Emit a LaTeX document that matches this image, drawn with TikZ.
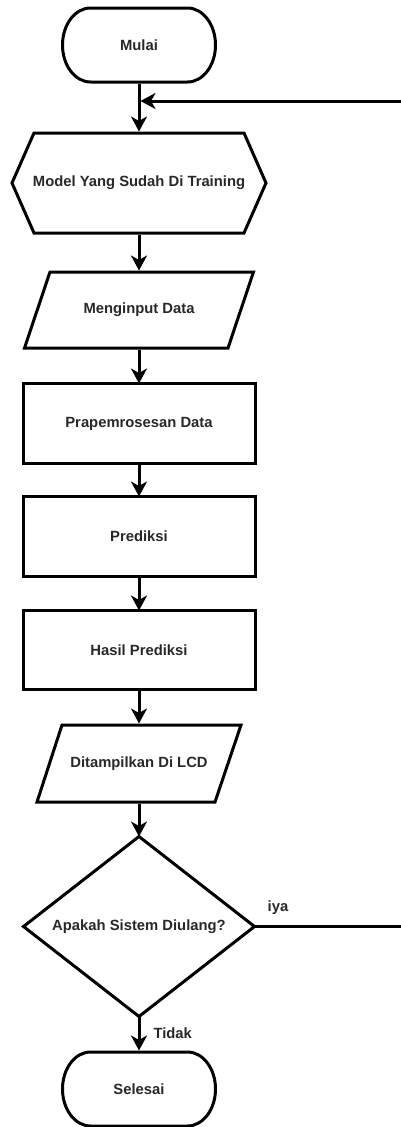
\documentclass[tikz,border=0pt]{standalone}
\usepackage{fontspec}
\setmainfont{Liberation Sans}
\usetikzlibrary{arrows.meta,calc}
\definecolor{txtc}{RGB}{40,40,40}
\begin{document}
\begin{tikzpicture}[x=1pt,y=-1pt, line width=3pt,
  lbl/.style={font=\bfseries\fontsize{14.8}{17}\selectfont, text=txtc, inner sep=0pt},
  shp/.style={lbl, minimum width=#1},
  arr/.style={-{Stealth[length=15pt,width=16pt,inset=4.5pt]}},
  outline/.style={line width=3pt, draw=black}]
\useasboundingbox (0,0) rectangle (401,1127);

% nodes
\node[shp=153pt, minimum height=74pt] (start) at (139,45) {Mulai};
\node[shp=254pt, minimum height=100pt] (hex) at (139,183) {Model Yang Sudah Di Training};
\node[shp=229pt, minimum height=76pt] (inp) at (139,310) {Menginput Data};
\node[shp=229pt, minimum height=77pt] (prep) at (139,423.5) {Prapemrosesan Data};
\node[shp=229pt, minimum height=77pt] (pred) at (139,536.5) {Prediksi};
\node[shp=229pt, minimum height=76pt] (hasil) at (139,650) {Hasil Prediksi};
\node[shp=204pt, minimum height=77pt] (lcd) at (139,763.5) {Ditampilkan Di LCD};
\node[shp=228pt, minimum height=177pt] (dia) at (139,926.5) {Apakah Sistem Diulang?};
\node[shp=153pt, minimum height=74pt] (stop) at (139,1089) {Selesai};

% outlines
\draw[outline, shift={(start.center)}] (-48.5,-37) -- (48.5,-37)
  arc[start angle=-90,end angle=90,x radius=28,y radius=37] -- (-48.5,37)
  arc[start angle=90,end angle=270,x radius=28,y radius=37] -- cycle;
\draw[outline, shift={(hex.center)}] (-127,0) -- (-105,-50) -- (105,-50) -- (127,0) -- (105,50) -- (-105,50) -- cycle;
\draw[outline, shift={(inp.center)}] (-89,-38) -- (114.5,-38) -- (89,38) -- (-114.5,38) -- cycle;
\draw[outline] (prep.north west) rectangle (prep.south east);
\draw[outline] (pred.north west) rectangle (pred.south east);
\draw[outline] (hasil.north west) rectangle (hasil.south east);
\draw[outline, shift={(lcd.center)}] (-77,-38.5) -- (102,-38.5) -- (76,38.5) -- (-102,38.5) -- cycle;
\draw[outline] (dia.north) -- (dia.east) -- (dia.south) -- (dia.west) -- cycle;
\draw[outline, shift={(stop.center)}] (-48.5,-37) -- (48.5,-37)
  arc[start angle=-90,end angle=90,x radius=28,y radius=37] -- (-48.5,37)
  arc[start angle=90,end angle=270,x radius=28,y radius=37] -- cycle;

% connectors
\draw[arr] (start.south) -- (hex.north);
\draw[arr] (hex.south) -- (inp.north);
\draw[arr] (inp.south) -- (prep.north);
\draw[arr] (prep.south) -- (pred.north);
\draw[arr] (pred.south) -- (hasil.north);
\draw[arr] (hasil.south) -- (lcd.north);
\draw[arr] (lcd.south) -- (dia.north);
\draw[arr] (dia.south) -- (stop.north);

\coordinate (r1) at (405,926.5);
\coordinate (r2) at (405,101);
\coordinate (j) at (140.5,101);
\draw[arr] (dia.east) -- (r1) -- (r2) -- (j);

% labels
\node[lbl] (iya) at (278,908) {iya};
\node[lbl, anchor=west] (tidak) at (152,1033) {Tidak};
\end{tikzpicture}
\end{document}
